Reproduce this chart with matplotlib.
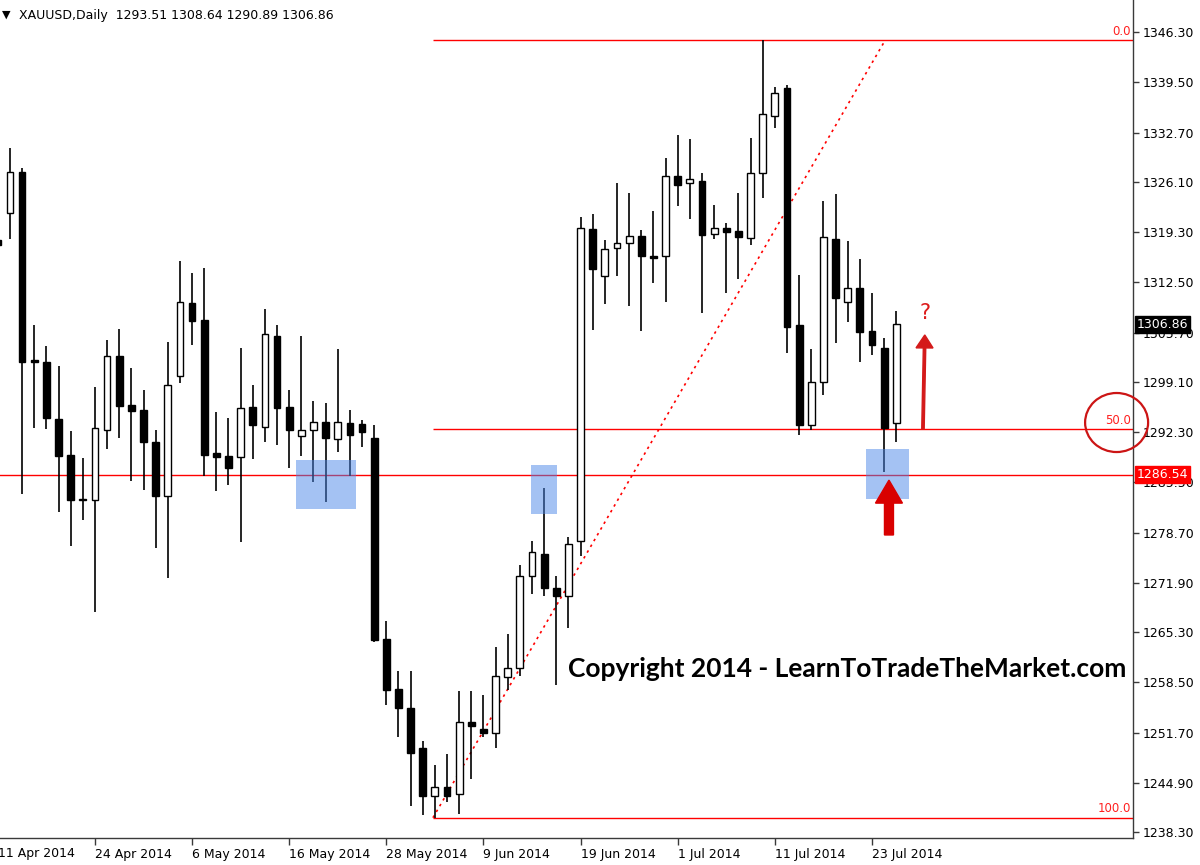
import numpy as np
import matplotlib
matplotlib.use("Agg")
import matplotlib.pyplot as plt
from matplotlib.patches import Rectangle, Ellipse, FancyArrow
from matplotlib.transforms import blended_transform_factory

# daily XAUUSD bars, first one (index -1) is cut by the left edge
bar_idx = np.arange(-1, 74)
opens = [1318.2, 1321.9, 1327.4, 1302.0, 1301.8, 1294.0, 1289.2, 1283.2, 1283.1, 1292.6,
         1302.5, 1295.9, 1295.3, 1291.0, 1283.7, 1299.9, 1309.7, 1307.4, 1289.4, 1289.0,
         1288.9, 1295.7, 1293.0, 1305.3, 1295.7, 1291.8, 1292.6, 1293.6, 1291.4, 1293.5,
         1293.4, 1291.5, 1264.4, 1257.6, 1255.1, 1249.6, 1243.2, 1244.4, 1243.4, 1253.1,
         1252.2, 1251.6, 1259.2, 1260.4, 1272.8, 1275.8, 1271.2, 1270.1, 1277.6, 1319.7,
         1313.3, 1317.1, 1317.8, 1318.8, 1316.0, 1316.1, 1326.8, 1325.9, 1326.2, 1319.0,
         1319.9, 1319.4, 1318.5, 1327.2, 1335.0, 1338.7, 1306.8, 1293.3, 1299.0, 1318.4,
         1309.8, 1311.8, 1305.9, 1303.7, 1293.51]
highs = [1321.0, 1330.7, 1328.0, 1306.8, 1303.9, 1301.2, 1292.4, 1288.8, 1298.4, 1304.7,
         1306.2, 1301.0, 1298.0, 1292.6, 1304.4, 1315.4, 1313.7, 1314.4, 1295.0, 1294.2,
         1303.7, 1298.7, 1308.9, 1306.8, 1298.0, 1305.2, 1296.5, 1296.2, 1303.5, 1295.3,
         1293.9, 1293.3, 1266.8, 1260.0, 1260.0, 1250.6, 1247.4, 1248.8, 1257.4, 1257.4,
         1256.8, 1263.3, 1265.0, 1274.4, 1277.6, 1284.7, 1272.9, 1278.1, 1321.3, 1321.7,
         1318.2, 1325.9, 1324.6, 1319.6, 1322.2, 1329.3, 1332.4, 1331.8, 1327.2, 1323.0,
         1320.5, 1324.6, 1332.0, 1345.2, 1338.9, 1339.2, 1313.5, 1303.5, 1323.5, 1324.4,
         1318.1, 1315.6, 1311.0, 1305.0, 1308.64]
lows = [1315.0, 1318.4, 1283.9, 1292.9, 1292.7, 1281.5, 1276.9, 1280.4, 1268.0, 1290.0,
        1291.5, 1285.7, 1284.5, 1276.7, 1272.6, 1298.9, 1304.0, 1286.3, 1284.3, 1285.1,
        1277.4, 1288.6, 1291.0, 1290.5, 1287.4, 1289.1, 1285.6, 1282.9, 1289.6, 1286.3,
        1290.3, 1264.0, 1255.5, 1251.1, 1241.8, 1240.6, 1240.2, 1242.4, 1240.7, 1245.4,
        1251.1, 1249.7, 1257.5, 1259.4, 1270.4, 1270.2, 1258.2, 1265.9, 1275.6, 1306.1,
        1309.6, 1313.4, 1309.3, 1305.9, 1312.4, 1309.9, 1322.8, 1321.0, 1308.3, 1318.3,
        1311.1, 1312.9, 1317.5, 1323.9, 1333.3, 1302.9, 1291.9, 1292.6, 1297.3, 1304.3,
        1307.1, 1301.8, 1302.7, 1286.9, 1290.89]
closes = [1317.6, 1327.4, 1301.8, 1301.8, 1294.2, 1289.1, 1283.1, 1283.1, 1292.8, 1302.6,
          1295.8, 1295.2, 1290.9, 1283.7, 1298.6, 1309.8, 1307.3, 1289.2, 1288.9, 1287.4,
          1295.5, 1293.2, 1305.5, 1295.6, 1292.6, 1292.6, 1293.6, 1291.5, 1293.6, 1291.9,
          1292.3, 1264.2, 1257.5, 1255.0, 1248.9, 1243.2, 1244.4, 1243.2, 1253.1, 1252.6,
          1251.6, 1259.3, 1260.5, 1272.8, 1276.1, 1271.2, 1270.1, 1277.2, 1319.8, 1314.3,
          1317.0, 1317.8, 1318.8, 1316.1, 1315.8, 1326.8, 1325.7, 1326.4, 1318.9, 1319.9,
          1319.3, 1318.6, 1327.2, 1335.2, 1338.1, 1306.5, 1293.3, 1299.0, 1318.6, 1310.4,
          1311.8, 1305.8, 1304.1, 1292.8, 1306.86]

date_pos = [7, 15, 23, 31, 39, 47, 55, 63, 71]
date_labels = ["24 Apr 2014", "6 May 2014", "16 May 2014", "28 May 2014", "9 Jun 2014",
               "19 Jun 2014", "1 Jul 2014", "11 Jul 2014", "23 Jul 2014"]
first_date = (-1, "11 Apr 2014")

price_ticks = [1346.30, 1339.50, 1332.70, 1326.10, 1319.30, 1312.50, 1305.70, 1299.10, 1292.30,
               1285.50, 1278.70, 1271.90, 1265.30, 1258.50, 1251.70, 1244.90, 1238.30]

fib_low = (34.84, 1240.23)     # swing low (bar, price)
fib_high = (72.1, 1345.22)     # end of the fib drag
support = 1286.54

# blue zones: (x0, x1, y0, y1)
zones = [(23.56, 28.5, 1281.9, 1288.5),
         (42.92, 45.03, 1281.2, 1287.8),
         (70.5, 74.05, 1283.3, 1290.0)]

fig = plt.figure(figsize=(12, 8.65), dpi=100)
ax = fig.add_axes([0, 27 / 865, 1133 / 1200, 838 / 865])
ax.set_xlim(-0.82, 92.5)
ax.set_ylim(1237.49, 1350.62)

# candles
o = np.array(opens); h = np.array(highs); l = np.array(lows); c = np.array(closes)
ax.vlines(bar_idx, l, h, color="black", lw=1.2, zorder=3)
up = c >= o
ax.bar(bar_idx[up], (c - o)[up], bottom=o[up], width=0.56, color="white",
       edgecolor="black", lw=1.0, zorder=4)
ax.bar(bar_idx[~up], (o - c)[~up], bottom=c[~up], width=0.56, color="black",
       edgecolor="black", lw=1.0, zorder=4)

# fibonacci
fib_mid = (fib_low[1] + fib_high[1]) / 2
for lvl, txt in [(fib_high[1], "0.0"), (fib_mid, "50.0"), (fib_low[1], "100.0")]:
    ax.hlines(lvl, fib_low[0], 92.5, color="#ff0000", lw=1.0, zorder=2)
    ax.text(92.3, lvl + 0.3, txt, color="#ff2020", fontsize=8.5, ha="right", va="bottom", zorder=6)
ax.plot([fib_low[0], fib_high[0]], [fib_low[1], fib_high[1]], color="#ff0000",
        ls=(0, (1.5, 2.5)), lw=1.2, zorder=2)

ax.axhline(support, color="#ff0000", lw=1.0, zorder=2)

for x0, x1, y0, y1 in zones:
    ax.add_patch(Rectangle((x0, y0), x1 - x0, y1 - y0, facecolor="#4a86e8", alpha=0.5,
                           edgecolor="none", zorder=5))

# arrows, question mark, circle
ax.add_patch(FancyArrow(75.2, 1292.7, 0.15, 12.7, width=0.2, head_width=1.4, head_length=1.75,
                        length_includes_head=True, color="#d41a1a", zorder=6))
ax.text(75.4, 1308.4, "?", color="#dd1c1c", fontsize=15, ha="center", va="center", zorder=6)
ax.add_patch(FancyArrow(72.4, 1278.4, 0, 7.4, width=0.74, head_width=2.22, head_length=3.1,
                        length_includes_head=True, color="#d90000", zorder=6))
ax.add_patch(Ellipse((91.15, 1293.58), 5.19, 7.97, fill=False, ec="#cc1515", lw=1.6,
                     clip_on=False, zorder=7))

# axes styling
for s in ["top", "left"]:
    ax.spines[s].set_visible(False)
for s in ["right", "bottom"]:
    ax.spines[s].set_color("#3a3a3a")
    ax.spines[s].set_linewidth(1.0)
ax.yaxis.tick_right()
ax.set_yticks(price_ticks)
ax.set_yticklabels([f"{v:.2f}" for v in price_ticks])
ax.tick_params(axis="y", direction="out", length=4, width=1, labelsize=9, pad=3, colors="#3a3a3a",
               labelcolor="black")
ax.set_xticks(date_pos)
ax.set_xticklabels(date_labels)
ax.tick_params(axis="x", direction="out", length=5, width=1, labelsize=9, pad=2, colors="#3a3a3a",
               labelcolor="black")
for lbl in ax.get_xticklabels():
    lbl.set_ha("left")
    lbl.set_x(lbl.get_position()[0])
ax.text(first_date[0], -0.011, first_date[1], transform=blended_transform_factory(ax.transData, ax.transAxes),
        fontsize=9, ha="left", va="top", clip_on=False)

# price boxes on the scale
btr = blended_transform_factory(ax.transAxes, ax.transData)
ax.text(1.003, closes[-1], f"{closes[-1]:.2f}", transform=btr, color="white", fontsize=9,
        va="center", ha="left", clip_on=False, zorder=10,
        bbox=dict(boxstyle="square,pad=0.15", fc="black", ec="black"))
ax.text(1.003, support, f"{support:.2f}", transform=btr, color="white", fontsize=9,
        va="center", ha="left", clip_on=False, zorder=10,
        bbox=dict(boxstyle="square,pad=0.15", fc="#ff0000", ec="#ff0000"))

# header
fig.text(2 / 1200, 1 - 15 / 865, "\u25bc", fontsize=8, va="center", ha="left")
fig.text(19 / 1200, 1 - 15 / 865,
         f"XAUUSD,Daily  {opens[-1]:.2f} {highs[-1]:.2f} {lows[-1]:.2f} {closes[-1]:.2f}",
         fontsize=9, va="center", ha="left")

fig.text(568 / 1200, (865 - 677) / 865, "Copyright 2014 - LearnToTradeTheMarket.com",
         fontfamily="Lato", fontweight="bold", fontsize=19, va="baseline", ha="left")

fig.savefig("out.png", dpi=100)
